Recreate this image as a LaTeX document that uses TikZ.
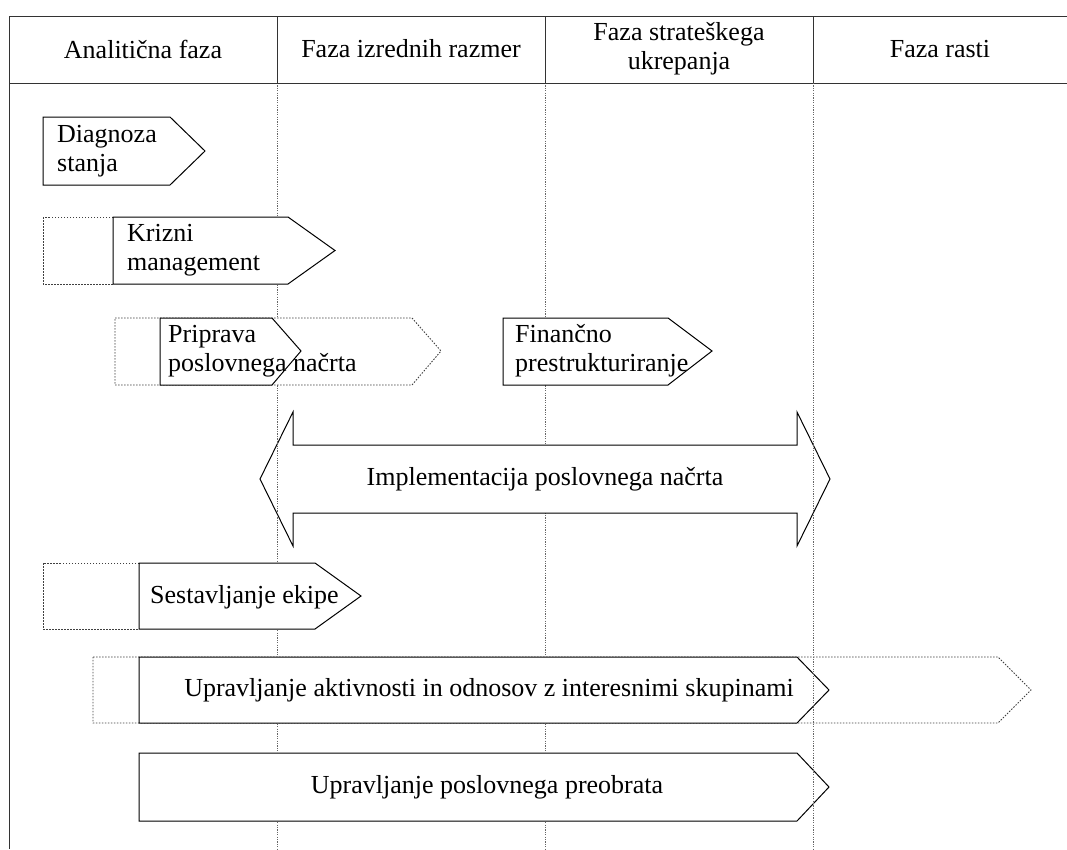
\documentclass[tikz,border=0pt]{standalone}
\usepackage{fontspec}
\setmainfont{Liberation Serif}
\begin{document}
\begin{tikzpicture}[x=1pt,y=-1pt,
  frame/.style={draw=black!80, line width=1pt},
  lane/.style={draw=black!60, line width=0.9pt, dash pattern=on 1.2pt off 1.2pt},
  task/.style={draw=black, line width=1pt, fill=white, line join=miter},
  span/.style={draw=black!75, line width=0.9pt, dash pattern=on 1.5pt off 1.5pt, fill=white, line join=miter},
  lbl/.style={font=\fontsize{26}{29}\selectfont, inner sep=0pt, align=left},
  head/.style={lbl, align=center},
  ]
\useasboundingbox (0,0) rectangle (1067,849);

% phase lanes (behind the activity shapes)
\draw[lane] (277,83) -- (277,849);
\draw[lane] (545,83) -- (545,849);

% header frame
\draw[frame] (1067,16) -- (9,16) -- (9,849);
\draw[frame] (9,83) -- (1067,83);
\draw[frame] (277,16) -- (277,83);
\draw[frame] (545,16) -- (545,83);
\draw[frame] (813,16) -- (813,83);

\node[head] (h1) at (143,49) {Analitična faza};
\node[head] (h2) at (411,49) {Faza izrednih razmer};
\node[head] (h3) at (679,49) {Faza strateškega\\ukrepanja};
\node[head] (h4) at (940,49) {Faza rasti};

% Diagnoza stanja
\draw[task] (43,117) -- (170,117) -- (205,151) -- (170,185) -- (43,185) -- cycle;

% Krizni management
\draw[span] (43,217) rectangle (113,284);
\draw[task] (113,217) -- (288,217) -- (335,250.5) -- (288,284) -- (113,284) -- cycle;

% Priprava poslovnega nacrta
\draw[span] (115,318) -- (412,318) -- (441,351) -- (412,385) -- (115,385) -- cycle;
\draw[task] (160,318) -- (272,318) -- (301,351) -- (272,385) -- (160,385) -- cycle;

% Financno prestrukturiranje
\draw[task] (503,318) -- (668,318) -- (712,351) -- (668,385) -- (503,385) -- cycle;

% Implementacija (double arrow)
\draw[task] (260,479) -- (293,412) -- (293,445) -- (797,445) -- (797,412) -- (830,479)
  -- (797,546) -- (797,513) -- (293,513) -- (293,546) -- cycle;
\draw[lane] (277,412) -- (277,546);

% Sestavljanje ekipe
\draw[span] (43,563) rectangle (139,629);
\draw[task] (139,563) -- (315,563) -- (361,596) -- (315,629) -- (139,629) -- cycle;

% Upravljanje aktivnosti
\draw[span] (93,657) -- (998,657) -- (1031,690) -- (998,723) -- (93,723) -- cycle;
\draw[task] (139,657) -- (797,657) -- (829,690) -- (797,723) -- (139,723) -- cycle;

% Upravljanje poslovnega preobrata
\draw[task] (139,753) -- (797,753) -- (829,787) -- (797,821) -- (139,821) -- cycle;

% last lane drawn on top
\draw[lane] (813,83) -- (813,849);

% activity labels
\node[lbl, anchor=west] (t1) at (57,151) {Diagnoza\\stanja};
\node[lbl, anchor=west] (t2) at (127,250) {Krizni\\management};
\node[lbl, anchor=west] (t3) at (168,351) {Priprava\\poslovnega načrta};
\node[lbl, anchor=west] (t4) at (515,351) {Finančno\\prestrukturiranje};
\node[lbl] (t5) at (545,479) {Implementacija poslovnega načrta};
\node[lbl, anchor=west] (t6) at (150,597) {Sestavljanje ekipe};
\node[lbl] (t7) at (489,690) {Upravljanje aktivnosti in odnosov z interesnimi skupinami};
\node[lbl] (t8) at (487,787) {Upravljanje poslovnega preobrata};
\end{tikzpicture}
\end{document}
